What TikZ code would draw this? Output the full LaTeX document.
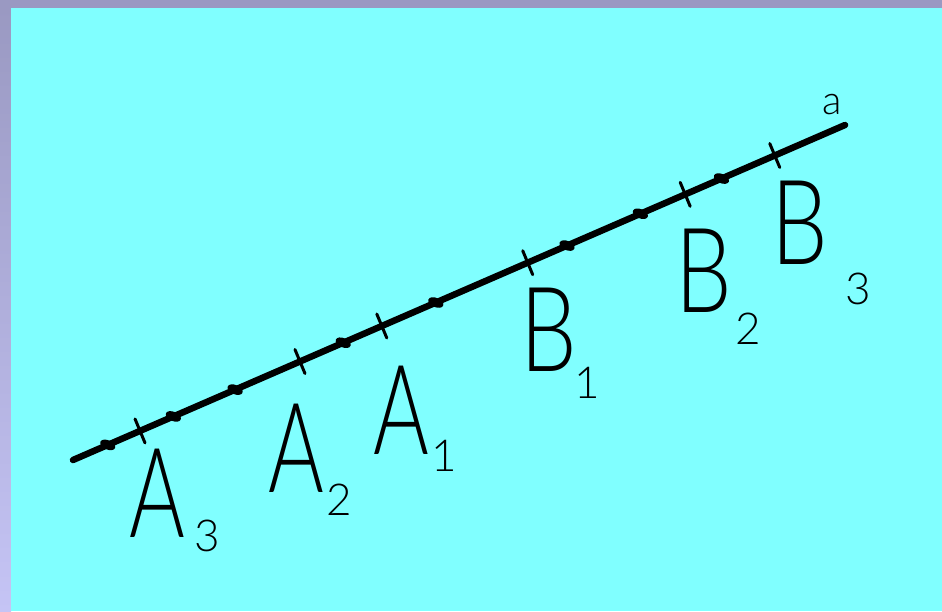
\documentclass[tikz,border=0pt]{standalone}
\usepackage{fontspec}
\setmainfont{Lato}[UprightFont=* Light]
\usetikzlibrary{calc}
\definecolor{bgcyan}{HTML}{80FFFF}
\definecolor{frametop}{HTML}{9A99C2}
\definecolor{framebot}{HTML}{C5C4F5}
\tikzset{
  letter/.style={inner sep=0pt, anchor=south west, font=\fontsize{125}{125}\selectfont, xscale=0.68},
  bletter/.style={inner sep=0pt, anchor=south west, font=\fontsize{118}{118}\selectfont, xscale=0.76},
  subnum/.style={inner sep=0pt, anchor=south west, font=\fontsize{44}{44}\selectfont},
  tickmark/.style={line width=3pt, line cap=round},
}
\begin{document}
\begin{tikzpicture}[x=1pt,y=-1pt]
\useasboundingbox (0,0) rectangle (942,611);
\fill[frametop] (0,0) rectangle (942,8);
\shade[top color=frametop, bottom color=framebot] (0,8) rectangle (11,611);
\fill[bgcyan] (11,8) rectangle (942,611);
% the line a
\coordinate (L) at (73,460);
\coordinate (R) at (845,125);
\draw[line width=6.5pt, line cap=round] (L) -- (R);
% slight thickenings along the line
\foreach \t in {0.045,0.13,0.21,0.35,0.47,0.64,0.735,0.84}
  \fill[rotate around={-23.5:($(L)!\t!(R)$)}] ($(L)!\t!(R)$) ellipse[x radius=8pt, y radius=4.6pt];
% tick marks (small crosses)
\foreach \t/\n in {0.0868/tA3,0.294/tA2,0.400/tA1,0.589/tB1,0.793/tB2,0.909/tB3}{
  \coordinate (\n) at ($(L)!\t!(R)$);
  \draw[tickmark] ($(\n)+(-5,-12)$) -- ($(\n)+(5,12)$);
}
% labels
\node[letter] (A3) at (129,538) {A};
\node[subnum] (s3) at (194,552) {3};
\node[letter] (A2) at (268,493) {A};
\node[subnum] (s2) at (326,516) {2};
\node[letter] (A1) at (373,455) {A};
\node[subnum] (s1) at (431,472) {1};
\node[bletter] (B1) at (520,372) {B};
\node[subnum] (b1) at (574,399) {1};
\node[bletter] (B2) at (675,313) {B};
\node[subnum] (b2) at (735,345) {2};
\node[bletter] (B3) at (771,265) {B};
\node[subnum] (b3) at (845,305) {3};
\node[inner sep=0pt, anchor=south west, font=\fontsize{40}{40}\selectfont] (la) at (822,115) {a};
\end{tikzpicture}
\end{document}
